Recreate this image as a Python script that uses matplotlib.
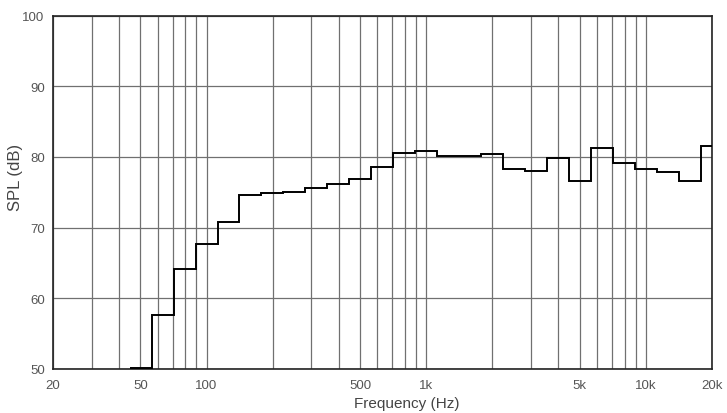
import numpy as np
import matplotlib
matplotlib.use("Agg")
import matplotlib.pyplot as plt
from matplotlib.ticker import FixedLocator, NullFormatter

# 1/3-octave band centres (Hz) and measured SPL (dB)
bands = [50, 63, 80, 100, 125, 160, 200, 250, 315, 400, 500, 630, 800,
         1000, 1250, 1600, 2000, 2500, 3150, 4000, 5000, 6300, 8000,
         10000, 12500, 16000, 20000]
spl = [50.2, 57.6, 64.1, 67.7, 70.8, 74.6, 74.9, 75.1, 75.6, 76.1, 76.9, 78.6, 80.5,
       80.8, 80.1, 80.1, 80.4, 78.3, 78.0, 79.8, 76.6, 81.3, 79.1,
       78.3, 77.9, 76.6, 81.6]
tick_vals = [20, 50, 100, 500, 1000, 5000, 10000, 20000]
tick_labels = ['20', '50', '100', '500', '1k', '5k', '10k', '20k']

plt.rcParams['font.family'] = ['Liberation Sans Narrow', 'Liberation Sans', 'DejaVu Sans']

# band edges: half a third-octave either side of each centre
idx = np.round(10 * np.log10(np.array(bands) / 1000.0))
edges = 1000.0 * 10 ** ((np.append(idx, idx[-1] + 1) - 0.5) / 10)

fig = plt.figure(figsize=(7.27, 4.14), dpi=100)
ax = fig.add_axes([53/727, 1-370/414, (712-53)/727, (370-16.5)/414])

ax.set_xscale('log')
ax.set_xlim(20, 20000)
ax.set_ylim(50, 100)

# grid: every 1-2-3..9 decade line, 10 dB horizontals
minor = [m * d for d in (10, 100, 1000) for m in range(2, 10)] + [20000]
ax.xaxis.set_major_locator(FixedLocator(tick_vals))
ax.xaxis.set_minor_locator(FixedLocator(minor))
ax.xaxis.set_minor_formatter(NullFormatter())
ax.set_xticklabels(tick_labels)
ax.set_yticks([50, 60, 70, 80, 90, 100])
ax.grid(True, which='both', axis='x', color='#707070', lw=0.9)
ax.grid(True, which='major', axis='y', color='#707070', lw=0.9)
ax.set_axisbelow(True)

ax.stairs(spl, edges, color='black', lw=1.4, baseline=None, zorder=3)

ax.tick_params(which='both', length=0, colors='#555555', labelsize=9.5)
ax.tick_params(axis='x', pad=7)
ax.tick_params(axis='y', pad=6)
for s in ax.spines.values():
    s.set_color('#222222')
    s.set_linewidth(1.2)

ax.set_xlabel('Frequency (Hz)', fontsize=11, color='#444444', va='top')
ax.set_ylabel('SPL (dB)', fontsize=12, color='#444444')
ax.xaxis.set_label_coords(0.537, -0.076)
ax.yaxis.set_label_coords(-0.046, 0.546)

fig.savefig('out.png', dpi=100)
